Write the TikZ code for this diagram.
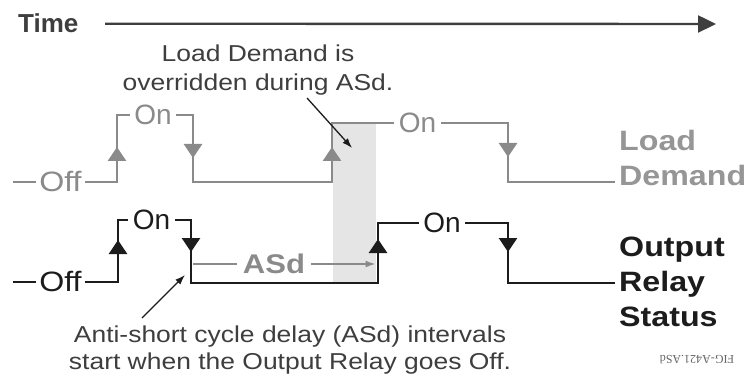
\documentclass[tikz,border=0pt]{standalone}
\usepackage{fontspec}
\setmainfont[FakeStretch=1.15]{Liberation Sans}
\newfontfamily\plainsans{Liberation Sans}
\newfontfamily\figfont{Liberation Serif}
\usetikzlibrary{arrows.meta}
\definecolor{loadgray}{RGB}{138,138,138}
\definecolor{loadtext}{RGB}{150,150,150}
\definecolor{shadegray}{RGB}{229,229,229}
\definecolor{inkgray}{RGB}{62,62,62}
\definecolor{relayblack}{RGB}{28,28,28}

\begin{document}
\begin{tikzpicture}[x=1pt, y=-1pt,
  load/.style={draw=loadgray, line width=2.6pt},
  relay/.style={draw=relayblack, line width=2.6pt},
  loadtip/.style={load, -{Triangle[width=18pt,length=14pt]}},
  relaytip/.style={relay, -{Triangle[width=18pt,length=14pt]}},
  state/.style={inner xsep=4.5pt, inner ysep=0pt, font=\plainsans\fontsize{28}{30}\selectfont},
  offstate/.style={inner xsep=3pt, inner ysep=0pt, font=\fontsize{28}{30}\selectfont},
  sigtitle/.style={inner sep=0pt, align=left, anchor=west, font=\fontsize{28}{35}\selectfont\bfseries},
  note/.style={inner sep=0pt, align=center, text=inkgray},
  callout/.style={draw=relayblack, line width=1.3pt, -{Latex[length=10pt,width=7pt]}}]
\useasboundingbox (0,0) rectangle (751,379);
\fill[white] (0,0) rectangle (751,379);

% time axis
\node[inner sep=0pt, anchor=base west, text=inkgray, font=\plainsans\fontsize{26}{28}\selectfont\bfseries] (time) at (18,33) {Time};
\coordinate (timeEnd) at (716,24);
\draw[draw=inkgray, line width=2.4pt, -{Triangle[width=17pt,length=18pt]}] (time.east -| 105,0) -- (timeEnd);

% ASd window
\fill[shadegray] (333,124) rectangle (376,282);

% load demand
\node[offstate, text=loadgray] (offL) at (60.5,182) {Off};
\node[state, text=loadgray] (onL1) at (153,115) {On};
\node[state, text=loadgray] (onL2) at (417.5,123) {On};
\coordinate (loadStart) at (13,182);
\coordinate (loadUp1) at (117,115);
\coordinate (loadDn1) at (193,182);
\coordinate (loadUp2) at (332,182);
\coordinate (loadDn2) at (508,182);
\coordinate (loadEnd) at (615,182);
\draw[load] (loadStart) -- (offL.west);
\draw[load] (offL.east) -| (loadUp1) -- (onL1.west);
\draw[load] (onL1.east) -| (loadDn1) -- (loadUp2) |- (onL2.west);
\draw[load] (onL2.east) -| (loadDn2) -- (loadEnd);
\draw[loadtip] (117,161) -- (117,147);
\draw[loadtip] (193,144) -- (193,158);
\draw[loadtip] (332,161) -- (332,147);
\draw[loadtip] (508,143) -- (508,157);
\node[sigtitle, text=loadtext] (loadLbl) at (619,158) {Load\\Demand};

% output relay
\node[offstate, text=relayblack] (offR) at (60.5,282) {Off};
\node[state, text=relayblack] (onR1) at (151.5,220) {On};
\node[state, text=relayblack] (onR2) at (442,223) {On};
\coordinate (relayStart) at (13,282);
\coordinate (relayUp1) at (118,220);
\coordinate (relayDn1) at (191,283);
\coordinate (relayUp2) at (378,283);
\coordinate (relayDn2) at (508,283);
\coordinate (relayEnd) at (615,283);
\draw[relay] (relayStart) -- (offR.west);
\draw[relay] (offR.east) -| (relayUp1) -- (onR1.west);
\draw[relay] (onR1.east) -| (relayDn1) -- (relayUp2) |- (onR2.west);
\draw[relay] (onR2.east) -| (relayDn2) -- (relayEnd);
\draw[relaytip] (118,254) -- (118,240);
\draw[relaytip] (191,238) -- (191,252);
\draw[relaytip] (378,253) -- (378,239);
\draw[relaytip] (508,238) -- (508,252);
\node[sigtitle, text=relayblack] (relayLbl) at (619,282) {Output\\Relay\\Status};

% ASd interval
\node[inner xsep=6pt, inner ysep=0pt, text=loadgray, font=\fontsize{27}{30}\selectfont\bfseries] (asd) at (274,264) {ASd};
\draw[draw=loadgray, line width=1.5pt, shorten <=2pt] (asd.west -| relayDn1) -- (asd.west);
\draw[draw=loadgray, line width=1.5pt, shorten >=2.5pt, -{Latex[length=10pt,width=7pt]}] (asd.east) -- (asd.east -| relayUp2);

% notes
\node[note, font=\fontsize{23}{29}\selectfont] (override) at (258,70.5) {Load Demand is\\overridden during ASd.};
\coordinate (overrideFrom) at (307,98);
\coordinate (overrideTo) at (352,148);
\draw[callout] (overrideFrom) -- (overrideTo);

\node[note, font=\fontsize{23}{27}\selectfont] (asdNote) at (290,350.5) {Anti-short cycle delay (ASd) intervals\\start when the Output Relay goes Off.};
\coordinate (asdFrom) at (142,318);
\coordinate (asdTo) at (185,275);
\draw[callout] (asdFrom) -- (asdTo);

\node[inner sep=0pt, rotate=180, text=inkgray!80, font=\figfont\fontsize{12}{12}\selectfont] (fig) at (697,360) {FIG-A421.ASd};
\end{tikzpicture}
\end{document}
